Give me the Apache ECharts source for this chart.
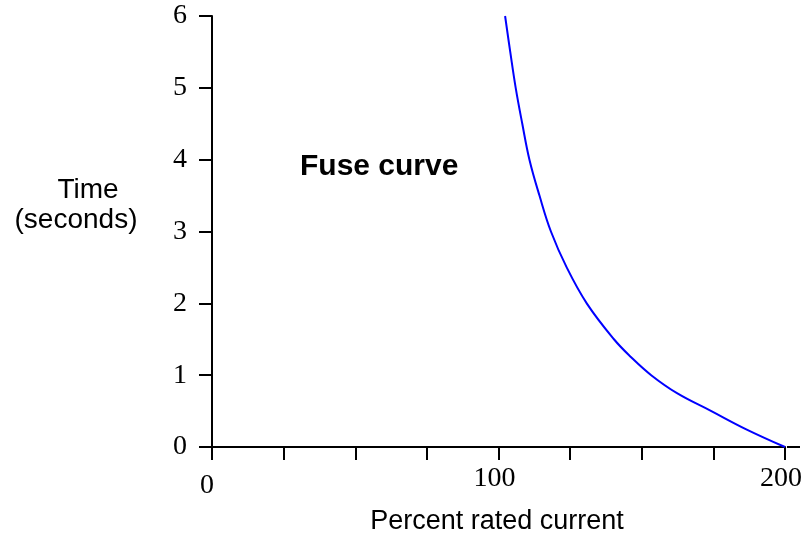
<!DOCTYPE html>
<html>
<head>
<meta charset="utf-8">
<script src="https://cdn.jsdelivr.net/npm/echarts@6/dist/echarts.min.js"></script>
<style>html,body{margin:0;padding:0;background:#fff}#c{width:805px;height:538px}</style>
</head>
<body>
<div id="c"></div>
<script>
var currentPct = [102.3, 104.1, 106, 108.3, 110.8, 114.3, 118.3, 123.8, 130.8, 140.3, 146.3, 153.3, 162.3, 174.3, 186.3, 200];
var timeSec    = [6, 5.5, 5, 4.5, 4, 3.5, 3, 2.5, 2, 1.5, 1.25, 1, 0.75, 0.5, 0.25, 0];
var xLabelValues = [0, 100, 200];

var data = currentPct.map(function (x, i) { return [x, timeSec[i]]; });
var serif = '"Liberation Serif","DejaVu Serif",serif';
var sans = '"Liberation Sans",Arial,sans-serif';

var chart = echarts.init(document.getElementById('c'), null, {renderer: 'canvas'});
chart.setOption({
  animation: false,
  backgroundColor: '#fff',
  grid: {left: 212, right: 18, top: 16, bottom: 91, containLabel: false},
  xAxis: {
    type: 'value', min: 0, max: 200, interval: 25,
    axisLine: {show: true, lineStyle: {color: '#000', width: 2}},
    axisTick: {show: true, length: 13, lineStyle: {color: '#000', width: 2}},
    splitLine: {show: false},
    axisLabel: {
      margin: 18,
      fontFamily: serif, fontSize: 28, color: '#000',
      formatter: function (v) {
        if (xLabelValues.indexOf(v) < 0) return '';
        return v === 0 ? '{z|0}' : '{n|' + v + '}';
      },
      rich: {
        z: {fontFamily: serif, fontSize: 28, color: '#000', padding: [7, 10, 0, 0]},
        n: {fontFamily: serif, fontSize: 28, color: '#000', padding: [0, 8, 0, 0]}
      }
    }
  },
  yAxis: {
    type: 'value', min: 0, max: 6, interval: 1,
    axisLine: {show: true, lineStyle: {color: '#000', width: 2}},
    axisTick: {show: true, length: 13, lineStyle: {color: '#000', width: 2}},
    splitLine: {show: false},
    axisLabel: {margin: 25, fontFamily: serif, fontSize: 28, color: '#000'}
  },
  series: [{
    type: 'line',
    data: data,
    smooth: 0.4,
    showSymbol: false,
    lineStyle: {color: '#0000ff', width: 2},
    itemStyle: {color: '#0000ff'}
  }],
  graphic: [
    {type: 'line', shape: {x1: 787, y1: 447, x2: 800, y2: 447}, style: {stroke: '#000', lineWidth: 2}},
    {type: 'text', left: 300, top: 152, style: {text: 'Fuse curve', font: 'bold 30px ' + sans, fill: '#000'}},
    {type: 'text', x: 88, y: 190, style: {text: 'Time', font: '28px ' + sans, fill: '#000', textAlign: 'center', textVerticalAlign: 'middle'}},
    {type: 'text', x: 76, y: 220, style: {text: '(seconds)', font: '28px ' + sans, fill: '#000', textAlign: 'center', textVerticalAlign: 'middle'}},
    {type: 'text', x: 497, y: 522, style: {text: 'Percent rated current', font: '27px ' + sans, fill: '#000', textAlign: 'center', textVerticalAlign: 'middle'}}
  ]
});
</script>
</body>
</html>
